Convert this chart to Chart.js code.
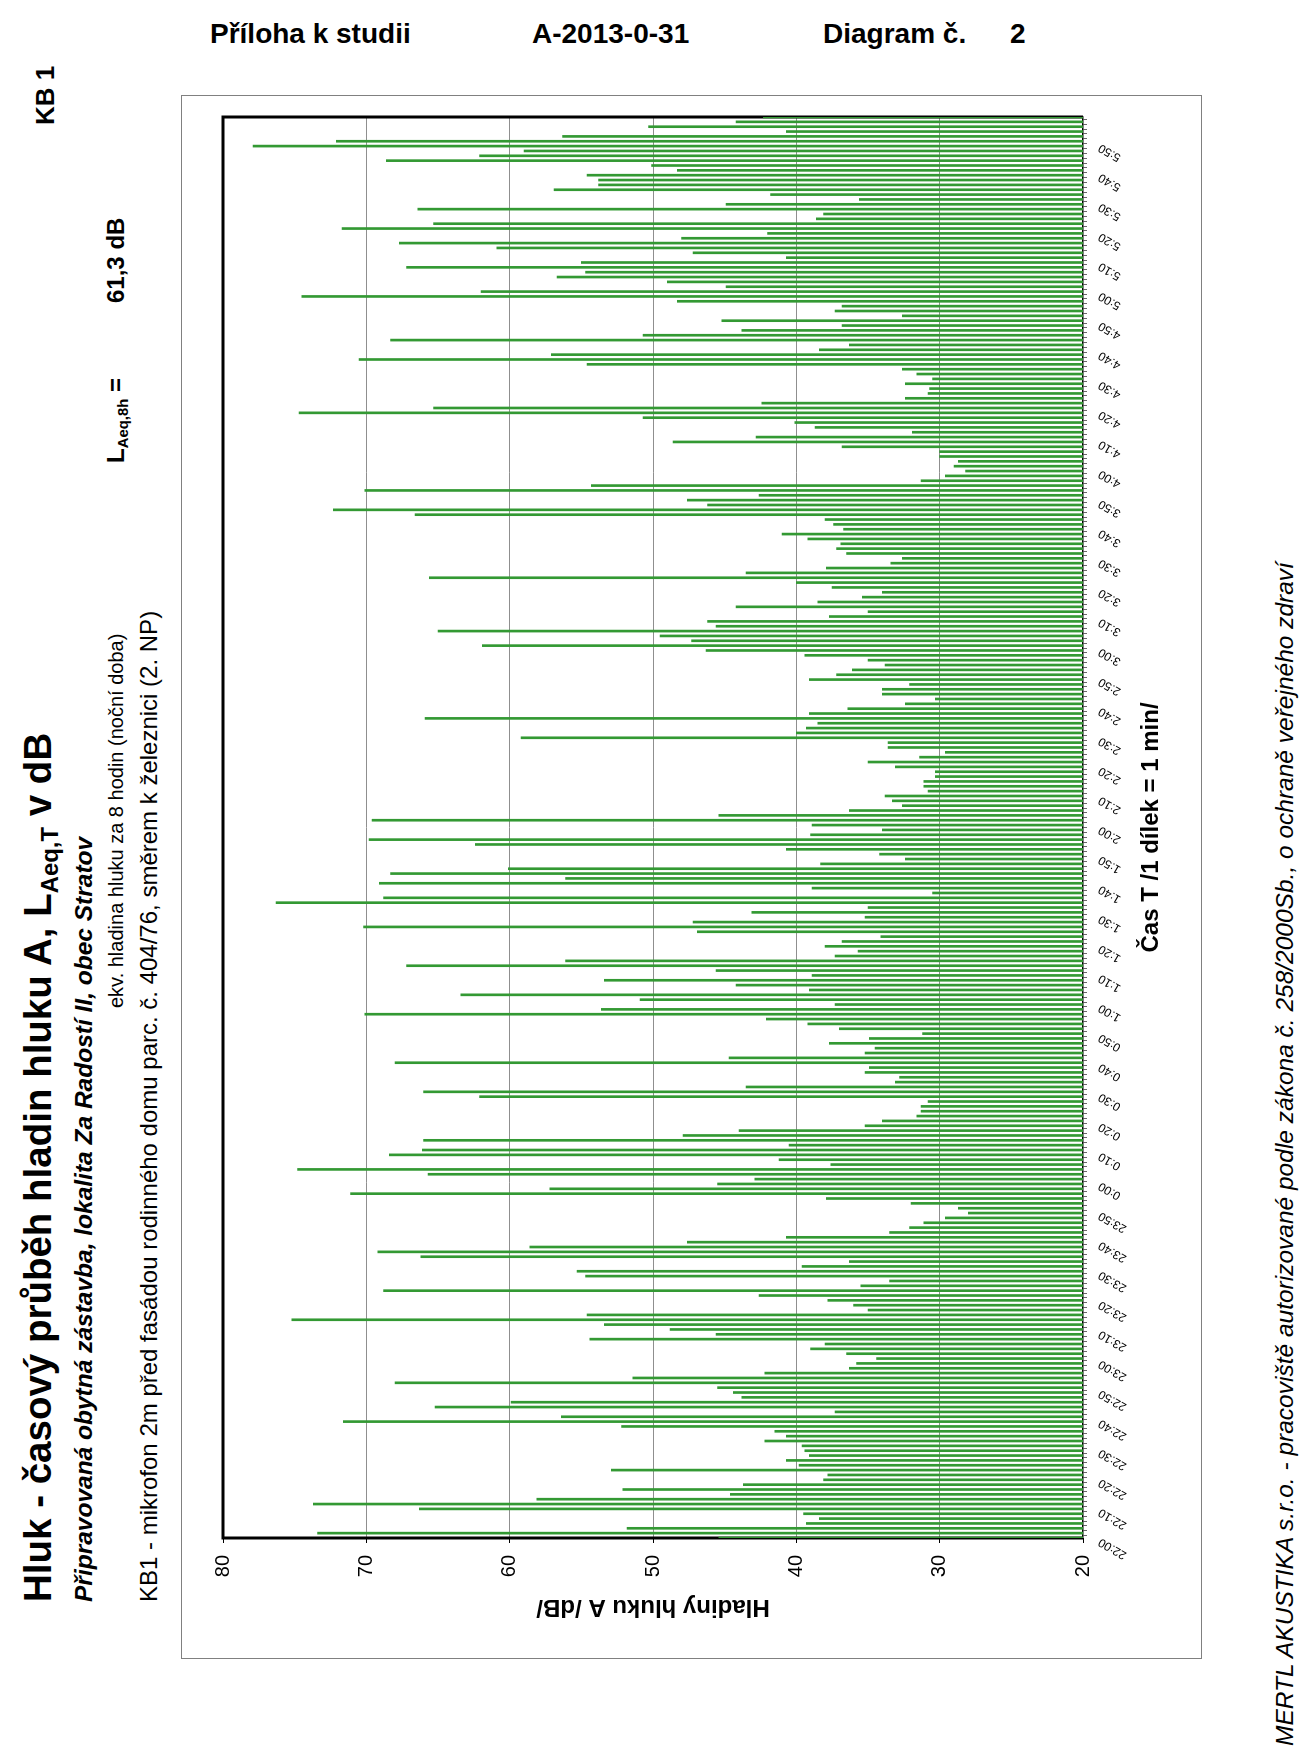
<!DOCTYPE html>
<html lang="cs">
<head>
<meta charset="utf-8">
<title>Hluk - časový průběh hladin hluku A</title>
<script src="https://cdn.jsdelivr.net/npm/chart.js@4.4.1/dist/chart.umd.min.js"></script>
<style>
  html, body { margin: 0; padding: 0; background: #fff; }
  body { width: 1305px; height: 1749px; position: relative; overflow: hidden; font-family: "Liberation Sans", Arial, sans-serif; color: #000; }
  .hd { position: absolute; top: 20px; font-size: 28px; font-weight: bold; line-height: 1; white-space: nowrap; }
  .rv { position: absolute; transform-origin: 0 0; transform: rotate(-90deg); white-space: nowrap; line-height: 1; }
  .sub { font-size: 0.62em; vertical-align: -0.28em; }
  #frame { position: absolute; left: 181px; top: 1659px; width: 1564px; height: 1021px; transform-origin: 0 0; transform: rotate(-90deg); border: 1px solid #808080; box-sizing: border-box; }
  #frame canvas { position: absolute; left: -1px; top: -1px; }
</style>
</head>
<body>

<div class="hd" style="left:210px">Příloha k studii</div>
<div class="hd" style="left:532px">A-2013-0-31</div>
<div class="hd" style="left:823px">Diagram č.</div>
<div class="hd" style="left:1010px">2</div>

<div class="rv" style="left:32px; top:125px; font-size:26px; font-weight:bold">KB 1</div>

<div class="rv" style="left:19px; top:1602px; font-size:38.5px; font-weight:bold">Hluk - časový průběh hladin hluku A, L<span class="sub">Aeq,T</span> v dB</div>
<div class="rv" style="left:72px; top:1602px; font-size:24.5px; font-weight:bold; font-style:italic">Připravovaná obytná zástavba, lokalita Za Radostí II, obec Stratov</div>
<div class="rv" style="left:106px; top:1008px; font-size:20px">ekv. hladina hluku za 8 hodin (noční doba)</div>
<div class="rv" style="left:137px; top:1602px; font-size:24px">KB1 - mikrofon 2m před fasádou rodinného domu parc. č. 404/76, směrem k železnici (2. NP)</div>

<div class="rv" style="left:104px; top:463px; font-size:24px; font-weight:bold">L<span class="sub">Aeq,8h</span> =</div>
<div class="rv" style="left:104px; top:303px; font-size:24px; font-weight:bold">61,3 dB</div>

<div class="rv" style="left:1273px; top:1746px; font-size:24.5px; font-style:italic">MERTL AKUSTIKA s.r.o. - pracoviště autorizované podle zákona č. 258/2000Sb., o ochraně veřejného zdraví</div>

<div id="frame"><canvas id="noiseChart" width="1564" height="1021"></canvas></div>

<script>
// Time axis labels (every 10 min)
const timeTicks = [
  "22:00", "22:10", "22:20", "22:30", "22:40", "22:50",
  "23:00", "23:10", "23:20", "23:30", "23:40", "23:50",
  "0:00", "0:10", "0:20", "0:30", "0:40", "0:50",
  "1:00", "1:10", "1:20", "1:30", "1:40", "1:50",
  "2:00", "2:10", "2:20", "2:30", "2:40", "2:50",
  "3:00", "3:10", "3:20", "3:30", "3:40", "3:50",
  "4:00", "4:10", "4:20", "4:30", "4:40", "4:50",
  "5:00", "5:10", "5:20", "5:30", "5:40", "5:50"
];
const timeSpanMin = 479;

// L_Aeq,T values in dB
const levelsFrom2200 = [
  45.4, 73.4, 51.8, 39.3, 38.4, 39.5, 66.3, 73.7, 58.1, 44.6,
  52.1, 43.7, 38.1, 37.8, 52.9, 39.8, 40.7, 39.1, 39.4, 39.6,
  42.2, 40.7, 41.5, 52.2, 71.6, 56.4, 37.3, 65.2, 59.9, 43.8,
  44.4, 45.5, 68.0, 51.4, 42.2, 36.3, 35.8, 34.4, 36.5, 39.0,
  38.0, 54.4, 45.6, 48.8, 53.4, 75.2, 54.6, 35.0, 36.0
];
const levelsFrom2320 = [
  37.8, 42.6, 68.8, 35.5, 33.5, 54.7, 55.3, 39.6, 36.3, 66.2,
  69.2, 58.6, 47.6, 40.7, 33.5, 32.1, 31.1, 29.6, 28.0, 28.7,
  32.0, 37.9, 71.1, 57.2, 45.5, 42.9, 65.7, 74.8, 37.6, 41.2,
  68.4, 66.1, 40.5, 66.0, 47.9, 44.0, 35.2, 34.0, 31.6, 31.3,
  31.3, 30.8, 62.1, 66.0, 43.5, 33.1, 32.8, 35.2, 34.9
];
const levelsFrom0040 = [
  68.0, 44.7, 35.2, 34.5, 37.7, 34.9, 31.2, 37.0, 39.2, 42.1,
  70.1, 53.6, 37.3, 50.9, 63.4, 39.1, 44.2, 53.4, 38.9, 45.6,
  67.2, 56.1, 37.3, 35.7, 38.0, 36.8, 34.1, 46.9, 70.2, 47.2,
  35.2, 43.1, 35.0, 76.3, 68.8, 30.5, 38.9, 69.1, 56.1, 68.3,
  60.1, 38.3, 32.4, 34.2, 40.7, 62.4, 69.8, 39.0, 34.0
];
const levelsFrom0200 = [
  38.9, 69.6, 45.4, 36.3, 32.6, 33.3, 33.8, 30.8, 31.1, 31.1,
  30.3, 30.3, 33.1, 35.0, 31.4, 29.6, 33.6, 33.6, 59.2, 40.0,
  39.3, 38.5, 65.9, 39.1, 36.4, 32.4, 30.3, 34.0, 34.0, 32.1,
  39.1, 37.2, 36.1, 33.8, 35.0, 39.4, 46.3, 61.9, 47.3, 49.5,
  65.0, 45.6, 46.2, 37.7, 35.0, 44.2, 38.5, 35.4, 34.0
];
const levelsFrom0320 = [
  37.5, 40.0, 65.6, 43.5, 37.9, 33.4, 32.6, 36.5, 37.2, 36.9,
  39.2, 41.0, 36.7, 37.4, 38.0, 66.6, 72.3, 46.2, 47.6, 42.6,
  70.1, 54.3, 31.3, 29.6, 28.2, 29.0, 28.7, 30.0, 30.0, 36.8,
  48.6, 42.8, 31.9, 38.7, 40.1, 50.7, 74.7, 65.3, 42.4, 32.4,
  30.8, 30.7, 32.4, 30.5, 31.6, 32.6, 54.6, 70.5, 57.1
];
const levelsFrom0440 = [
  38.4, 36.3, 68.3, 50.7, 43.8, 36.8, 45.2, 32.6, 37.3, 36.8,
  48.3, 74.5, 62.0, 44.9, 49.0, 56.7, 54.7, 67.2, 55.0, 40.7,
  47.2, 60.9, 67.7, 48.0, 42.0, 71.7, 65.3, 38.6, 38.1, 66.4,
  44.9, 35.6, 41.8, 56.9, 53.8, 53.8, 54.6, 48.3, 50.1, 68.6,
  62.1, 59.0, 77.9, 72.1, 56.3, 40.7, 50.3, 44.2, 42.3
];

const levels = [].concat(levelsFrom2200, levelsFrom2320, levelsFrom0040,
  levelsFrom0200, levelsFrom0320, levelsFrom0440);
const samples = levels.map((_, i) => String(i + 1));

const FONT = "'Liberation Sans', Arial, sans-serif";

// thick black plot border (drawn under the bars)
const plotFrame = {
  id: "plotFrame",
  beforeDatasetsDraw(chart) {
    const { ctx, chartArea: a } = chart;
    ctx.save();
    ctx.strokeStyle = "#000";
    ctx.lineWidth = 3;
    ctx.beginPath();
    ctx.moveTo(a.left, a.bottom);
    ctx.lineTo(a.left, a.top);
    ctx.lineTo(a.right, a.top);
    ctx.lineTo(a.right, a.bottom);
    ctx.stroke();
    ctx.restore();
  },
};

const ctx = document.getElementById("noiseChart").getContext("2d");
new Chart(ctx, {
  type: "bar",
  data: {
    labels: samples,
    datasets: [
      {
        data: levels,
        backgroundColor: "#339933",
        barThickness: 2,
        xAxisID: "x",
        yAxisID: "y",
      },
    ],
  },
  options: {
    responsive: false,
    animation: false,
    events: [],
    layout: { padding: { left: 0, right: 22, top: 42, bottom: 0 } },
    plugins: { legend: { display: false }, tooltip: { enabled: false } },
    scales: {
      x: {
        type: "category",
        position: "bottom",
        offset: false,
        ticks: { display: false },
        grid: { drawOnChartArea: false, tickLength: 4, color: "#000", lineWidth: 0.6 },
        border: { color: "#000", width: 1.5 },
        afterFit: (s) => { s.height = 4; },
      },
      t: {
        type: "linear",
        position: "bottom",
        offset: false,
        min: 0,
        max: timeSpanMin,
        grid: { display: false, offset: false },
        border: { display: false },
        ticks: {
          stepSize: 10,
          autoSkip: false,
          includeBounds: false,
          minRotation: 60,
          maxRotation: 60,
          padding: 1,
          labelOffset: -3,
          color: "#000",
          font: { family: FONT, size: 12 },
          callback: (v) => timeTicks[v / 10] || "",
        },
        title: {
          display: true,
          text: "Čas T /1 dílek = 1 min/",
          color: "#000",
          font: { family: FONT, size: 24, weight: "bold" },
          padding: { top: 0, bottom: 36 },
        },
        afterFit: (s) => { s.height = 115; },
      },
      y: {
        min: 20,
        max: 80,
        ticks: { stepSize: 10, padding: 12, color: "#000", font: { family: FONT, size: 20 } },
        grid: {
          color: (c) => (c.tick.value === 20 || c.tick.value === 80 ? "rgba(0,0,0,0)" : "#8f8f8f"),
          tickColor: "#000",
          tickLength: 5,
        },
        border: { display: false },
        title: {
          display: true,
          text: "Hladiny hluku A /dB/",
          color: "#000",
          font: { family: FONT, size: 24, weight: "bold" },
          padding: { top: 38, bottom: 0 },
        },
        afterFit: (s) => { s.width = 121; },
      },
    },
  },
  plugins: [plotFrame],
});
</script>
</body>
</html>
